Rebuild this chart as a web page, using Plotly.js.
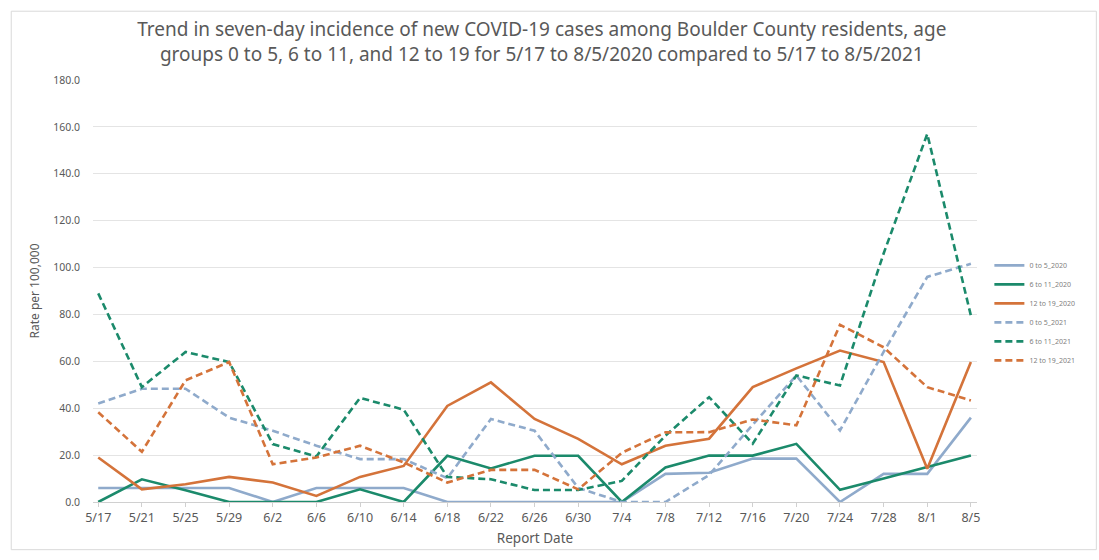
<!DOCTYPE html>
<html>
<head>
<meta charset="utf-8">
<script src="https://cdn.plot.ly/plotly-3.0.1.min.js"></script>
<style>html,body{margin:0;padding:0;background:#fff;} #chart{width:1099px;height:560px;}</style>
</head>
<body>
<div id="chart"></div>
<script>
const dates = ["5/17","5/21","5/25","5/29","6/2","6/6","6/10","6/14","6/18","6/22","6/26","6/30","7/4","7/8","7/12","7/16","7/20","7/24","7/28","8/1","8/5"];
const age0to5_2020   = [6, 6, 6, 6, 0, 6, 6, 6, 0, 0, 0, 0, 0, 12, 12.5, 18.5, 18.5, 0, 12, 12, 36];
const age6to11_2020  = [0, 9.7, 5, 0, 0, 0, 5.4, 0, 19.7, 14.3, 19.7, 19.7, 0, 14.7, 19.8, 19.8, 24.8, 5.2, 10, 14.8, 19.8];
const age12to19_2020 = [19, 5.4, 7.6, 10.7, 8.3, 2.6, 10.7, 15.4, 41, 51, 35.4, 26.9, 16.1, 24, 27, 49, 57, 64.6, 59.7, 14.2, 59.7];
const age0to5_2021   = [42, 48.3, 48.3, 36, 30.4, 24, 18.3, 18.3, 10.2, 35.4, 30.4, 6, 0, 0, 11.5, 33, 54, 30.5, 64, 96, 101.6];
const age6to11_2021  = [89, 49, 64, 59.7, 24.7, 19.4, 44.4, 39.4, 10.7, 9.7, 5.1, 5.1, 9, 28.3, 44.7, 24.9, 54, 49.7, 106, 157, 79.5];
const age12to19_2021 = [38.3, 21.4, 51.9, 59.7, 16.1, 19, 24, 16.9, 8.3, 13.7, 13.7, 5.4, 21, 29.7, 29.8, 35.2, 32.7, 75.6, 66, 49, 43.3];
const seriesNames = ["0 to 5_2020","6 to 11_2020","12 to 19_2020","0 to 5_2021","6 to 11_2021","12 to 19_2021"];
const yTicks = [0,20,40,60,80,100,120,140,160,180];

const blue = "#8FAACB", green = "#1B8A6B", orange = "#D4733A";
const idx = dates.map((d,i)=>i);
function tr(name, y, color, dashed){
  return {x: idx, y: y, name: name, type: "scatter", mode: "lines",
    line: {color: color, width: 2.6, dash: dashed ? "7px,4px" : "solid"}};
}
const data = [
  tr(seriesNames[0], age0to5_2020, blue, false),
  tr(seriesNames[1], age6to11_2020, green, false),
  tr(seriesNames[2], age12to19_2020, orange, false),
  tr(seriesNames[3], age0to5_2021, blue, true),
  tr(seriesNames[4], age6to11_2021, green, true),
  tr(seriesNames[5], age12to19_2021, orange, true)
];
const layout = {
  width: 1099, height: 560,
  margin: {l: 93, r: 122, t: 80, b: 58},
  paper_bgcolor: "#fff", plot_bgcolor: "#fff",
  font: {family: "Noto Sans, sans-serif", color: "#595959"},
  title: {text: "Trend in seven-day incidence of new COVID-19 cases among Boulder County residents, age<br>groups 0 to 5, 6 to 11, and 12 to 19 for 5/17 to 8/5/2020 compared to 5/17 to 8/5/2021",
          font: {size: 19, color: "#595959", family: "Noto Sans, sans-serif"}, x: 0.493, xanchor: "center", y: 0.936, yanchor: "top"},
  xaxis: {range: [-0.12, 20.14], tickmode: "array", tickvals: idx, ticktext: dates,
          showgrid: false, zeroline: false, showline: true, linecolor: "#D0D0D0", linewidth: 1,
          ticks: "outside", ticklen: 4, tickcolor: "#D0D0D0",
          tickfont: {size: 12.5, color: "#595959"},
          title: {text: "Report Date", font: {size: 13.5, color: "#595959"}, standoff: 8}},
  yaxis: {range: [0, 180], tickmode: "array", tickvals: yTicks, ticktext: yTicks.map(v=>v.toFixed(1)),
          showgrid: true, gridcolor: "#E4E4E4", gridwidth: 1, zeroline: false, showline: false,
          tickfont: {size: 10.5, color: "#595959"}, ticks: "", ticklabelstandoff: 12,
          title: {text: "Rate per 100,000", font: {size: 12, color: "#595959"}, standoff: 10}},
  legend: {x: 1.014, xanchor: "left", y: 0.595, yanchor: "top", font: {size: 7, color: "#808080"},
           bgcolor: "rgba(0,0,0,0)", tracegroupgap: 0},
  showlegend: true,
  shapes: [{type: "rect", xref: "paper", yref: "paper", x0: -0.0925, x1: 1.135, y0: -0.113, y1: 1.163,
            line: {color: "#D9D9D9", width: 1}, fillcolor: "rgba(0,0,0,0)", layer: "below"}]
};
Plotly.newPlot("chart", data, layout, {displayModeBar: false, staticPlot: true});
</script>
</body>
</html>
